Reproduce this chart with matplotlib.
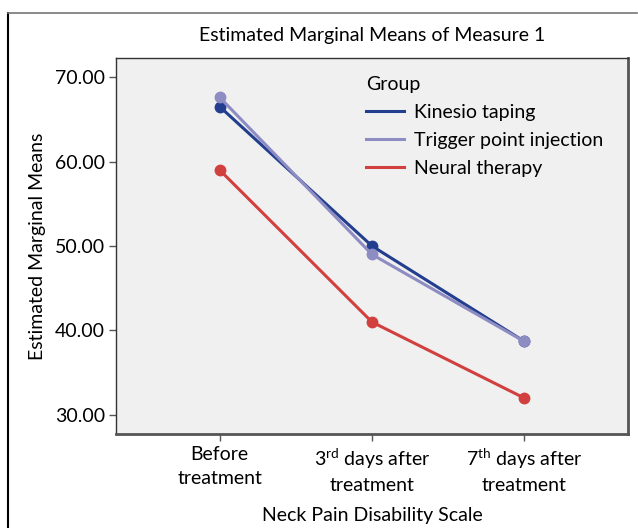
import numpy as np
import matplotlib
matplotlib.use("Agg")
import matplotlib.pyplot as plt
from matplotlib.lines import Line2D

plt.rcParams['font.family'] = ['Lato', 'DejaVu Sans']
plt.rcParams['mathtext.fontset'] = 'custom'
plt.rcParams['mathtext.rm'] = 'Lato'
plt.rcParams['mathtext.it'] = 'Lato'

# data
time_labels = ['Before\ntreatment', '3$^{\\rm rd}$ days after\ntreatment', '7$^{\\rm th}$ days after\ntreatment']
groups = ['Kinesio taping', 'Trigger point injection', 'Neural therapy']
kinesio = [66.5, 50.0, 38.7]
trigger = [67.6, 49.0, 38.7]
neural = [59.0, 41.0, 32.0]
colors = ['#233d8f', '#8d8cc3', '#d1403f']

fs = 14

fig = plt.figure(figsize=(6.38, 5.28), dpi=100)
ax = fig.add_axes([116/638, 1-434/528, (628-116)/638, (434-58)/528])
ax.set_facecolor('#f0f0f0')

x = np.arange(len(time_labels))
for vals, c in [(kinesio, colors[0]), (trigger, colors[1]), (neural, colors[2])]:
    ax.plot(x, vals, color=c, lw=2.2, marker='o', ms=7.5, solid_capstyle='butt')

ax.set_xlim(-0.68, 2.68)
ax.set_ylim(27.75, 72.25)
ax.set_yticks([30, 40, 50, 60, 70])
ax.set_yticklabels(['30.00', '40.00', '50.00', '60.00', '70.00'])
ax.set_xticks(x)
ax.set_xticklabels(time_labels, linespacing=1.45)
ax.tick_params(axis='both', labelsize=fs, colors='#555555', labelcolor='black', length=5, width=1)
ax.tick_params(axis='x', pad=4)
ax.tick_params(axis='y', pad=3)

for s in ['left', 'top']:
    ax.spines[s].set_color('#333333')
    ax.spines[s].set_linewidth(1)
for s in ['right', 'bottom']:
    ax.spines[s].set_color('#555555')
    ax.spines[s].set_linewidth(2)

ax.set_title('Estimated Marginal Means of Measure 1', fontsize=fs, pad=12)
ax.set_xlabel('Neck Pain Disability Scale', fontsize=fs, labelpad=9)
ax.set_ylabel('Estimated Marginal Means', fontsize=fs, labelpad=6)

handles = [Line2D([], [], color=c, lw=2.2) for c in colors]
leg = ax.legend(handles, groups, title='Group', loc='upper left',
                bbox_to_anchor=(0.455, 0.998), frameon=False, fontsize=fs,
                title_fontsize=fs, handlelength=1.95, handletextpad=0.5,
                labelspacing=0.56, alignment='left')

# outer frame (left and top visible)
fig.add_artist(Line2D([8/638, 8/638], [0, 1-13/528], color='black', lw=1.5, transform=fig.transFigure))
fig.add_artist(Line2D([8/638, 637/638], [1-13/528, 1-13/528], color='#777777', lw=1.2, transform=fig.transFigure))

fig.savefig('out.png', dpi=100)
